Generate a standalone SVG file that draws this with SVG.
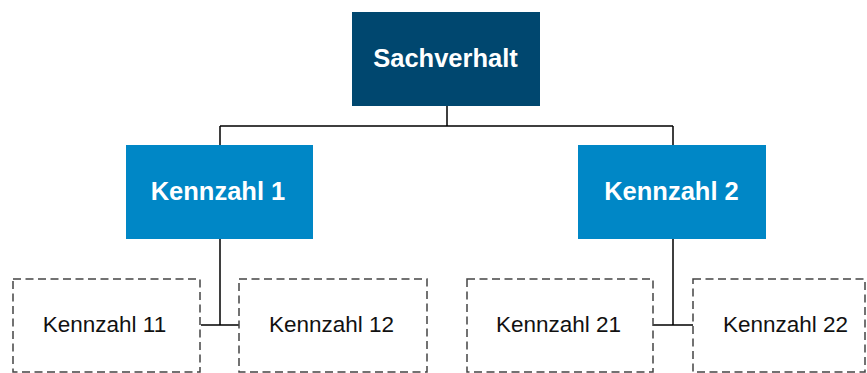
<svg xmlns="http://www.w3.org/2000/svg" width="867" height="373" viewBox="0 0 867 373">
<style>
.t{font-family:"Liberation Sans",Arial,sans-serif;text-anchor:middle}
.b{font-weight:bold;font-size:25.5px;fill:#fff}
.s{font-size:22.5px;fill:#111}
.d{fill:#fff;stroke:#444;stroke-width:1.5;stroke-dasharray:8 4.5}
.c{fill:none;stroke:#000;stroke-width:1.5}
</style>
<rect width="867" height="373" fill="#fff"/>
<g id="connectors">
<path class="c" d="M447 106V126M220 126H673M220 126V145M673 126V145"/>
<path class="c" d="M220 239V325M201 325H239M673 239V325M653 325H693"/>
</g>
<g id="sachverhalt"><rect x="352" y="12" width="188" height="94" fill="#00476F"/><text class="t b" x="445.5" y="67">Sachverhalt</text></g>
<g id="kennzahl1"><rect x="126" y="145" width="187" height="94" fill="#0087C6"/><text class="t b" x="218" y="200">Kennzahl 1</text></g>
<g id="kennzahl2"><rect x="578" y="145" width="188" height="94" fill="#0087C6"/><text class="t b" x="671.5" y="200">Kennzahl 2</text></g>
<g id="kennzahl11"><rect class="d" x="13" y="279" width="187" height="93"/><text class="t s" x="104.5" y="332">Kennzahl 11</text></g>
<g id="kennzahl12"><rect class="d" x="239" y="279" width="188" height="93"/><text class="t s" x="331.5" y="332">Kennzahl 12</text></g>
<g id="kennzahl21"><rect class="d" x="467" y="279" width="186" height="93"/><text class="t s" x="558.5" y="332">Kennzahl 21</text></g>
<g id="kennzahl22"><rect class="d" x="693" y="279" width="172" height="93"/><text class="t s" x="785.5" y="332">Kennzahl 22</text></g>
</svg>
